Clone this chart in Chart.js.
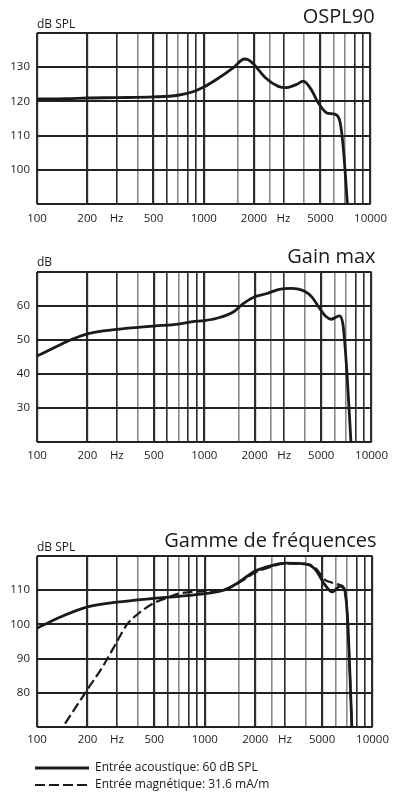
<!DOCTYPE html>
<html>
<head>
<meta charset="utf-8">
<script src="https://cdn.jsdelivr.net/npm/chart.js"></script>
<style>
  html, body { margin: 0; padding: 0; background: #fff; overflow: hidden; }
  canvas { position: absolute; left: 0; }
</style>
</head>
<body>
<canvas id="ospl" width="395" height="228" style="top:0px"></canvas>
<canvas id="gain" width="395" height="226" style="top:240px"></canvas>
<canvas id="range" width="395" height="277" style="top:520px"></canvas>
<script>
// --- values (Hz / dB) ---
const osplFreq = [100, 150, 200, 300, 500, 700, 870, 1000, 1190, 1500, 1750, 1850, 2000, 2340, 2800, 3100, 3580, 3950, 4390, 4900, 5490, 6150, 6580, 6880, 7260];
const osplLevel = [120.7, 120.8, 121.0, 121.1, 121.3, 121.8, 122.9, 124.2, 126.4, 129.8, 132.4, 132.2, 130.8, 126.9, 124.4, 124.0, 124.9, 125.9, 123.6, 119.3, 116.6, 116.2, 113.7, 105.8, 90];

const gainFreq = [100, 130, 150, 200, 300, 500, 700, 850, 1000, 1190, 1500, 1700, 2000, 2340, 2800, 3300, 4000, 4390, 4900, 5340, 5740, 6430, 6730, 6880, 7130, 7530];
const gainLevel = [45.3, 48.0, 49.5, 51.8, 53.1, 54.1, 54.7, 55.4, 55.7, 56.4, 58.3, 60.6, 62.7, 63.6, 64.9, 65.2, 64.3, 62.7, 59.3, 56.9, 56.1, 57.1, 54.9, 50.5, 40.2, 20];

const acousticFreq = [100, 130, 200, 300, 500, 700, 1000, 1300, 1500, 1700, 2000, 2340, 2800, 3000, 4000, 4550, 5180, 5740, 6430, 6800, 7100, 7530];
const acousticLevel = [98.9, 101.6, 105.1, 106.5, 107.6, 108.2, 109.0, 110.0, 111.5, 113.3, 115.6, 116.8, 117.8, 117.9, 117.6, 116.1, 111.7, 109.5, 111.2, 110.2, 101.4, 70];

const magneticFreq = [147, 200, 246, 300, 344, 400, 500, 600, 700, 1000, 1300, 1500, 1700, 2000, 2340, 2800, 3000, 4000, 4550, 5180, 5740, 6200, 6500, 6800, 7100, 7530];
const magneticLevel = [71, 81, 87.6, 95, 100, 103.1, 106.3, 107.8, 109, 109.7, 110.1, 111.4, 113.0, 115.2, 116.4, 117.6, 117.8, 117.7, 116.6, 113.1, 112.2, 111.7, 111.4, 110.2, 101.4, 70];

// --- axes ---
const xGridLines = [100, 200, 300, 400, 500, 600, 700, 800, 900, 1000, 1600, 2000, 2500, 3000, 4000, 5000, 6000, 7000, 8000, 9000, 10000];
const xGrayLines = [400, 700, 1600, 2500, 4000, 6000, 7000];
const xThickLines = [100, 200, 500, 1000, 2000, 5000, 10000];
const xLabelValues = [100, 200, 300, 500, 1000, 2000, 3000, 5000, 10000];
const xLabelTexts = ['100', '200', 'Hz', '500', '1000', '2000', 'Hz', '5000', '10000'];

const osplYGrid = [90, 100, 110, 120, 130, 140];
const osplYLabels = [100, 110, 120, 130];
const gainYGrid = [20, 30, 40, 50, 60, 70];
const gainYLabels = [30, 40, 50, 60];
const rangeYGrid = [70, 80, 90, 100, 110, 120];
const rangeYLabels = [80, 90, 100, 110];

const FONT = "'Open Sans', sans-serif";
const INK = '#1a1a1a';

// title on the right + unit label above the y axis
const panelText = {
  id: 'panelText',
  afterLayout(chart) {
    // legend sits a little left of the plot, like in the print
    if (chart.legend && chart.options.plugins.legend.display) chart.legend.left -= 7;
  },
  afterDraw(chart, args, o) {
    const ctx = chart.ctx, a = chart.chartArea;
    ctx.save();
    ctx.fillStyle = INK;
    ctx.textBaseline = 'alphabetic';
    ctx.font = '20px ' + FONT;
    ctx.textAlign = 'right';
    ctx.fillText(o.title, a.right + 4, o.titleY);
    ctx.font = '12px ' + FONT;
    ctx.textAlign = 'left';
    ctx.fillText(o.unit, a.left, o.unitY);
    ctx.restore();
  }
};

function toPoints(xs, ys) {
  return xs.map((f, i) => ({x: f, y: ys[i]}));
}

function freqChart(id, datasets, yMin, yMax, yGrid, yLabels, text, legend) {
  return new Chart(document.getElementById(id), {
    type: 'line',
    data: {
      datasets: datasets.map(d => ({
        label: d.label,
        data: d.data,
        borderColor: INK,
        backgroundColor: INK,
        borderWidth: d.dash ? 2.2 : 2.8,
        borderDash: d.dash || [],
        pointRadius: 0,
        cubicInterpolationMode: 'monotone',
        fill: false
      }))
    },
    options: {
      responsive: false,
      animation: false,
      events: [],
      layout: {padding: {left: 0, right: 17, top: text.top, bottom: text.bottom}},
      scales: {
        x: {
          type: 'logarithmic',
          min: 100,
          max: 10000,
          afterBuildTicks: s => { s.ticks = xGridLines.map(v => ({value: v})); },
          afterFit: s => { s.height = text.xh; },
          border: {display: false},
          grid: {
            drawTicks: false,
            color: c => xGrayLines.includes(c.tick.value) ? '#8a8a8a' : '#2e2e2e',
            lineWidth: c => xThickLines.includes(c.tick.value) ? 2.2 : 1.6
          },
          ticks: {
            autoSkip: false,
            maxRotation: 0,
            padding: text.xpad,
            color: INK,
            font: {family: FONT, size: 11.5},
            callback: v => {
              const i = xLabelValues.indexOf(v);
              return i < 0 ? '' : xLabelTexts[i];
            }
          }
        },
        y: {
          min: yMin,
          max: yMax,
          afterBuildTicks: s => { s.ticks = yGrid.map(v => ({value: v})); },
          afterFit: s => { s.width = 37; },
          border: {display: false},
          grid: {drawTicks: false, color: '#222', lineWidth: 2},
          ticks: {
            padding: 7,
            color: INK,
            font: {family: FONT, size: 11.5},
            callback: v => yLabels.includes(v) ? String(v) : ''
          }
        }
      },
      plugins: {
        legend: legend || {display: false},
        tooltip: {enabled: false},
        panelText: text
      }
    },
    plugins: [panelText]
  });
}

freqChart('ospl',
  [{label: 'OSPL90', data: toPoints(osplFreq, osplLevel)}],
  90, 140, osplYGrid, osplYLabels,
  {title: 'OSPL90', unit: 'dB SPL', titleY: 23, unitY: 28, top: 33, bottom: 2, xh: 22, xpad: 8});

freqChart('gain',
  [{label: 'Gain max', data: toPoints(gainFreq, gainLevel)}],
  20, 70, gainYGrid, gainYLabels,
  {title: 'Gain max', unit: 'dB', titleY: 22.5, unitY: 26, top: 32, bottom: 2, xh: 22, xpad: 7});

freqChart('range',
  [
    {label: 'Entrée acoustique: 60 dB SPL', data: toPoints(acousticFreq, acousticLevel)},
    {label: 'Entrée magnétique: 31.6 mA/m', data: toPoints(magneticFreq, magneticLevel), dash: [10, 4]}
  ],
  70, 120, rangeYGrid, rangeYLabels,
  {title: 'Gamme de fréquences', unit: 'dB SPL', titleY: 26.5, unitY: 30.5, top: 36, bottom: 0, xh: 30, xpad: 6},
  {
    display: true,
    position: 'bottom',
    align: 'start',
    fullSize: false,
    maxHeight: 40,
    labels: {boxWidth: 54, boxHeight: 0, padding: 5, color: INK, font: {family: FONT, size: 12}}
  });
</script>
</body>
</html>
